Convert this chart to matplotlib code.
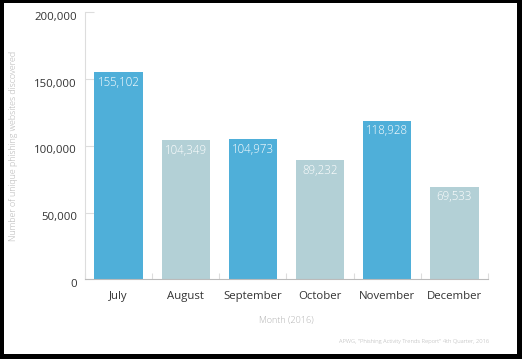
import matplotlib
matplotlib.use("Agg")
import matplotlib.pyplot as plt
from matplotlib.patches import Rectangle
from matplotlib.ticker import FuncFormatter, FixedLocator
from matplotlib.transforms import ScaledTranslation

months = ["July", "August", "September", "October", "November", "December"]
values = [155102, 104349, 104973, 89232, 118928, 69533]
colors = ["#4FAFD9", "#B3D0D6", "#4FAFD9", "#B3D0D6", "#4FAFD9", "#B3D0D6"]
yticks = [0, 50000, 100000, 150000, 200000]

plt.rcParams['font.family'] = ['Open Sans', 'DejaVu Sans']

W, H = 522, 359
fig = plt.figure(figsize=(W / 100, H / 100), dpi=100)
fig.patch.set_facecolor("black")
fig.patches.append(Rectangle((4 / W, 5 / H), (517 - 4) / W, (356 - 5) / H,
                             transform=fig.transFigure, facecolor="white",
                             edgecolor="none", zorder=-10))

ax = fig.add_axes([85 / W, 1 - 279.3 / H, (488 - 85) / W, (279.3 - 12.5) / H])
ax.set_facecolor("none")
ax.set_zorder(1)
x = list(range(len(months)))
bars = ax.bar(x, values, width=0.72, color=colors, zorder=2)
for xi, v in zip(x, values):
    ax.annotate(f"{v:,}", (xi, v), xytext=(0, -10), textcoords="offset pixels",
                ha="center", va="center", color="white", fontsize=8.3,
                fontweight="light", zorder=3)

ax.set_xlim(-0.5, len(months) - 0.5)
ax.set_ylim(0, 200000)
ax.set_yticks(yticks)
ax.yaxis.set_major_formatter(FuncFormatter(lambda v, p: f"{int(v):,}"))
ax.set_xticks(x)
ax.set_xticklabels(months)
ax.xaxis.set_minor_locator(FixedLocator([i - 0.5 for i in range(len(months) + 1)]))

ax.tick_params(axis="y", direction="in", length=6.5, width=0.8, color="#dddddd",
               pad=5.8, labelsize=8.2, labelcolor="#333333")
ax.tick_params(axis="x", which="major", length=0, pad=8.6, labelsize=8.2, labelcolor="#333333")
ax.tick_params(axis="x", which="minor", direction="in", length=4.5, width=0.8, color="#dddddd")

off = ScaledTranslation(0, -3.5 / 100, fig.dpi_scale_trans)
for t in ax.yaxis.get_major_ticks():
    t.label1.set_transform(t.label1.get_transform() + off)

for s in ["top", "right"]:
    ax.spines[s].set_visible(False)
ax.spines["left"].set_color("#dddddd")
ax.spines["left"].set_linewidth(0.8)
ax.spines["bottom"].set_color("#bbbbbb")
ax.spines["bottom"].set_linewidth(0.8)
ax.spines["bottom"].set_zorder(3)

fig.text(14 / W, 1 - 146 / H, "Number of unique phishing websites discovered",
         rotation=90, ha="center", va="center", fontsize=6.3, color="#b0b0b0",
         fontweight="light")
fig.text(286.5 / W, 1 - 320 / H, "Month (2016)", ha="center", va="center",
         fontsize=6.5, color="#b0b0b0", fontweight="light")
fig.text(489 / W, 1 - 341 / H, "APWG, \"Phishing Activity Trends Report\" 4th Quarter, 2016",
         ha="right", va="center", fontsize=4.15, color="#b0b0b0", fontweight="light")

fig.savefig("out.png", dpi=100, facecolor=fig.get_facecolor())
